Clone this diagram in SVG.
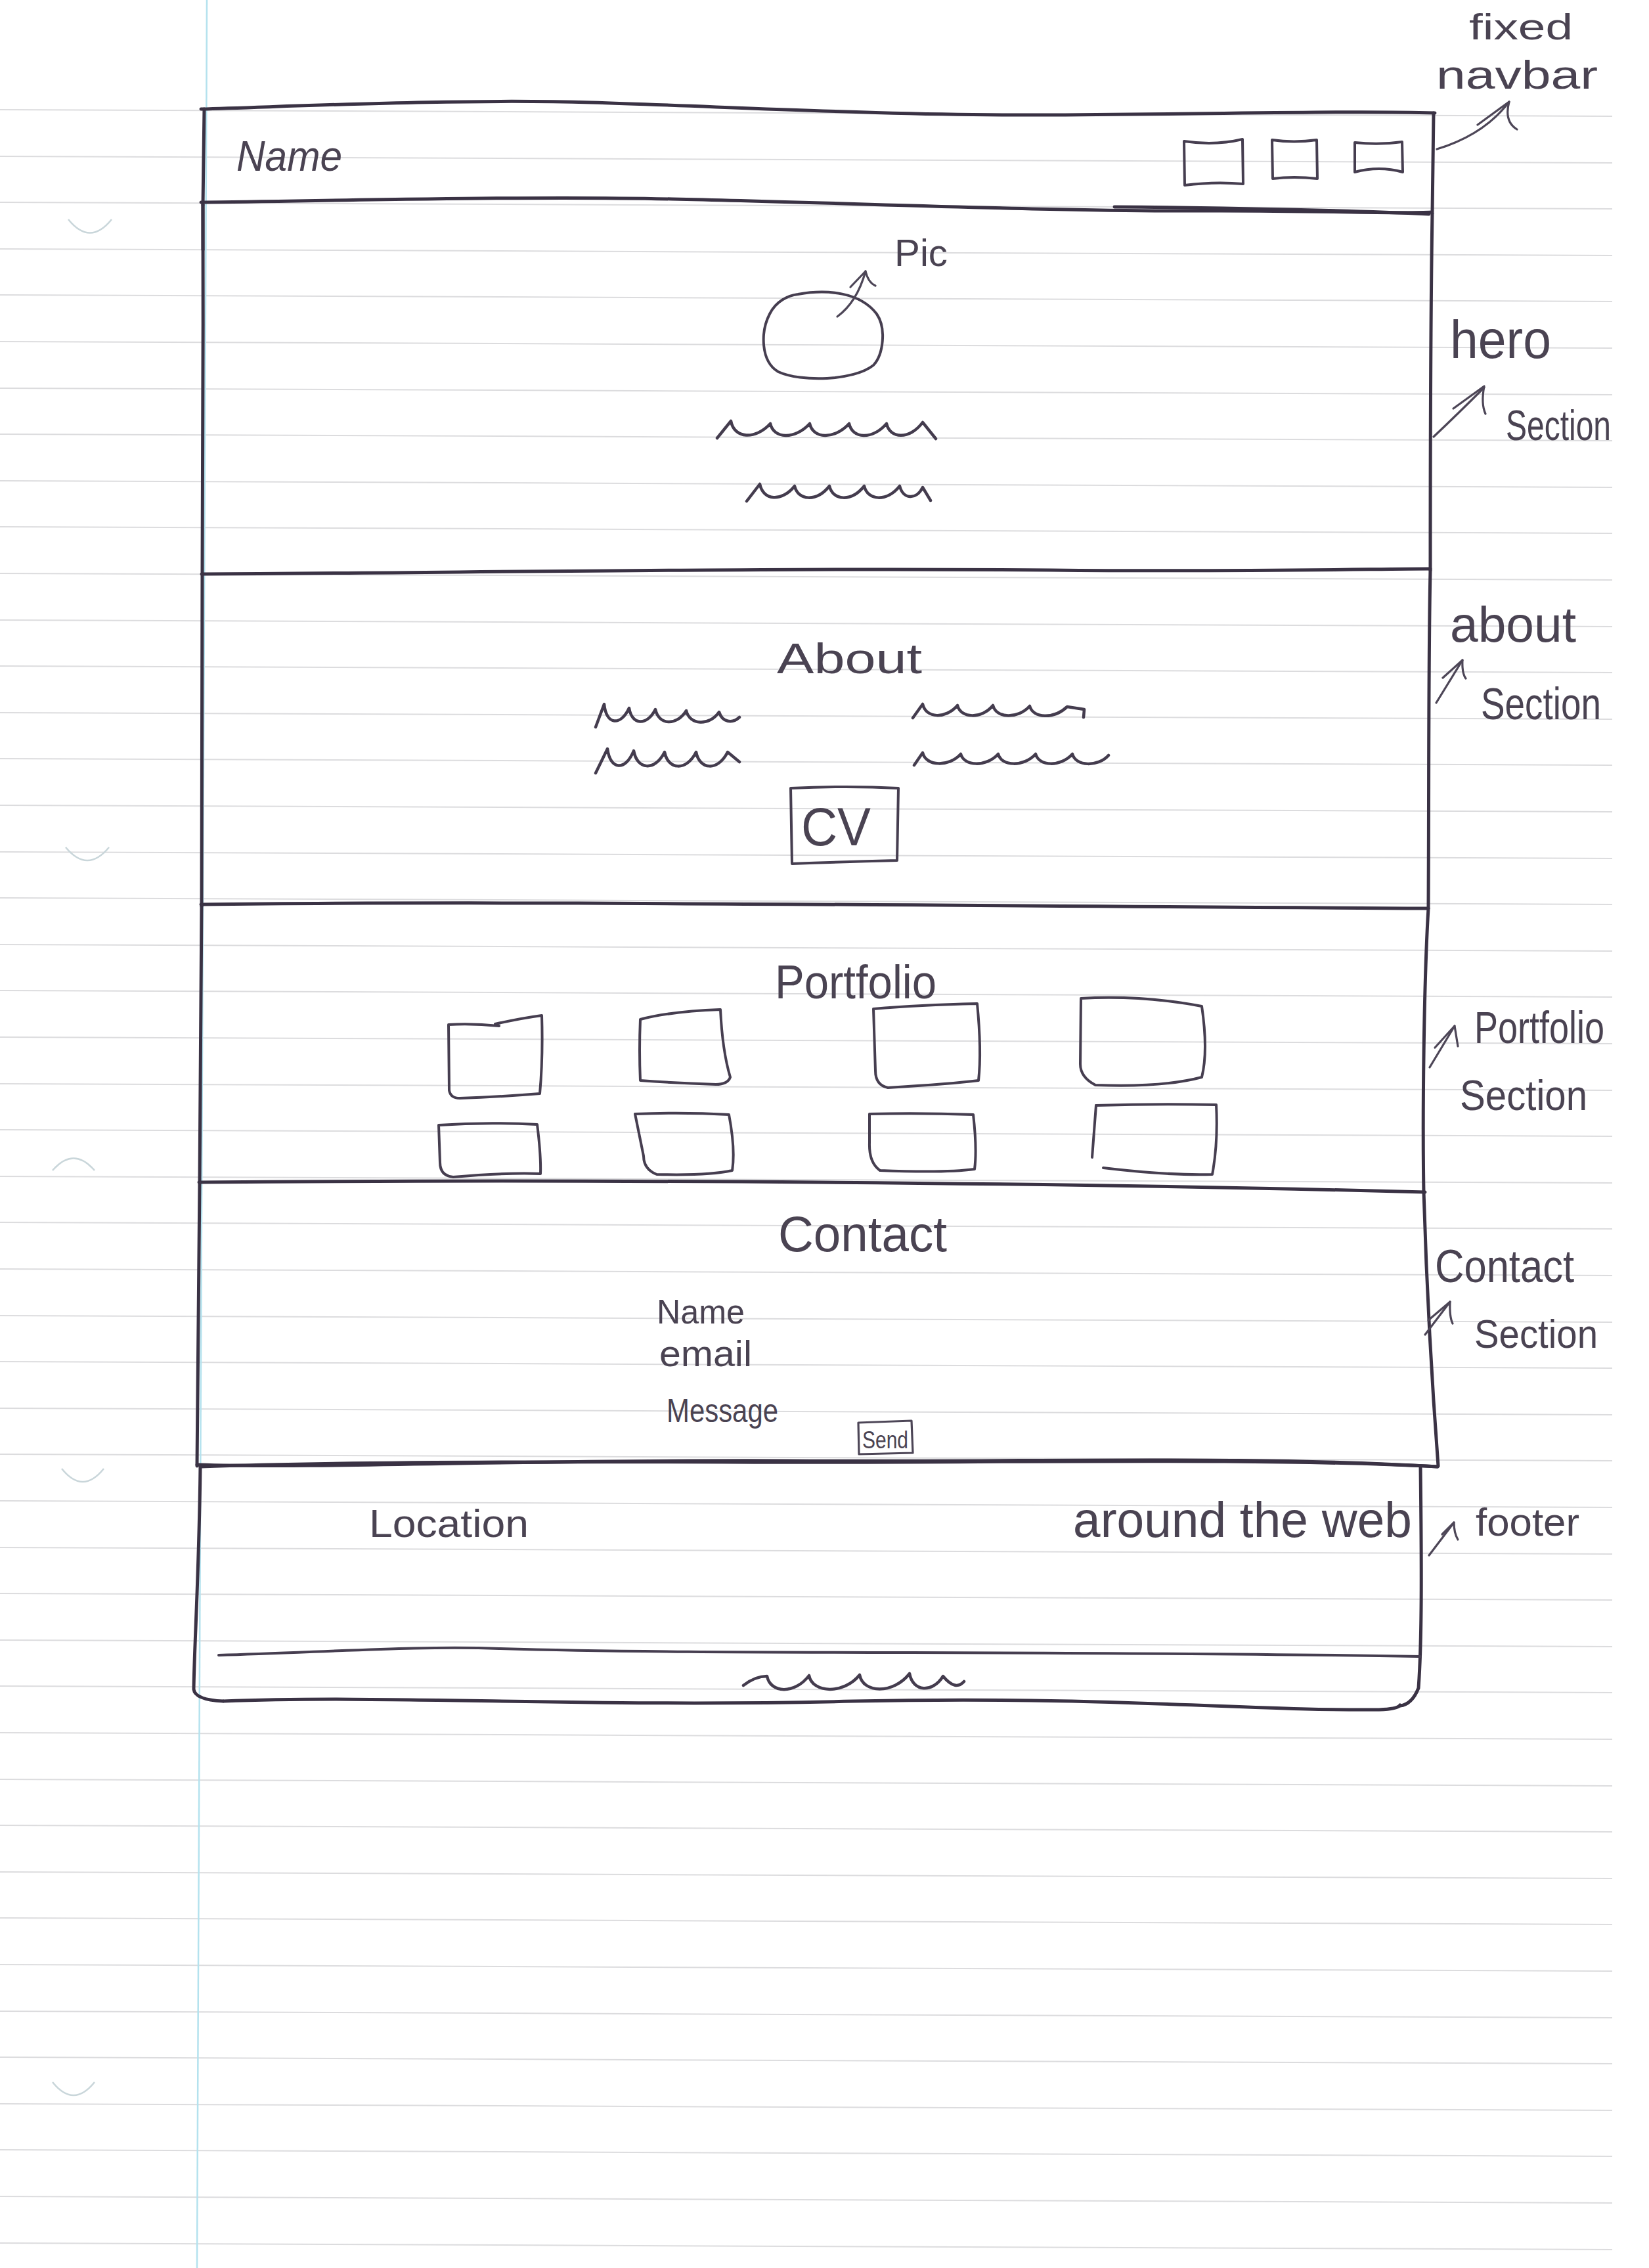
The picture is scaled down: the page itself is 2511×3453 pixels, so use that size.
<svg xmlns="http://www.w3.org/2000/svg" width="2511" height="3453" viewBox="0 0 2511 3453">
  <defs>
    <style>
      .rule { stroke:#dcdcde; stroke-width:2; fill:none; }
      .margin { stroke:#b4e2ee; stroke-width:2.5; fill:none; }
      .hole { stroke:#c9d6da; stroke-width:2.5; fill:none; }
      .ink { fill:none; stroke:#3a3244; stroke-width:5; stroke-linecap:round; stroke-linejoin:round; }
      .pen { fill:none; stroke:#463e50; stroke-width:4; stroke-linecap:round; stroke-linejoin:round; }
      .thin { fill:none; stroke:#4d4657; stroke-width:3.2; stroke-linecap:round; stroke-linejoin:round; }
      .wave { fill:none; stroke:#443c4e; stroke-width:4.5; stroke-linecap:round; stroke-linejoin:round; }
      .hand { font-family:"Liberation Sans", Arial, sans-serif; fill:#4a4352; }
    </style>
  </defs>

  <!-- paper -->
  <rect x="0" y="0" width="2511" height="3453" fill="#ffffff"/>
  <g id="paper-rules">
    <path class="rule" d="M0 167 L2455 177 M0 238 L2455 248 M0 308 L2455 318 M0 379 L2455 389 M0 449 L2455 459 M0 520 L2455 530 M0 591 L2455 601 M0 661 L2455 671 M0 732 L2455 742 M0 802 L2455 812 M0 873 L2455 883 M0 944 L2455 954 M0 1014 L2455 1024 M0 1085 L2455 1095 M0 1155 L2455 1165 M0 1226 L2455 1236 M0 1297 L2455 1307 M0 1367 L2455 1377 M0 1438 L2455 1448 M0 1508 L2455 1518 M0 1579 L2455 1589 M0 1650 L2455 1660 M0 1720 L2455 1730 M0 1791 L2455 1801 M0 1861 L2455 1871 M0 1932 L2455 1942 M0 2003 L2455 2013 M0 2073 L2455 2083 M0 2144 L2455 2154 M0 2214 L2455 2224 M0 2285 L2455 2295 M0 2356 L2455 2366 M0 2426 L2455 2436 M0 2497 L2455 2507 M0 2567 L2455 2577 M0 2638 L2455 2648 M0 2709 L2455 2719 M0 2779 L2455 2789 M0 2850 L2455 2860 M0 2920 L2455 2930 M0 2991 L2455 3001 M0 3062 L2455 3072 M0 3132 L2455 3142 M0 3203 L2455 3213 M0 3273 L2455 3283 M0 3344 L2455 3354 M0 3415 L2455 3425"/>
    <path class="margin" d="M315 0 L300 3453"/>
    <path class="hole" d="M104 334 Q137 375 170 334"/>
    <path class="hole" d="M100 1290 Q133 1330 166 1290"/>
    <path class="hole" d="M80 1782 Q112 1745 144 1782"/>
    <path class="hole" d="M94 2236 Q126 2276 158 2236"/>
    <path class="hole" d="M80 3170 Q112 3210 144 3170"/>
  </g>

  <!-- fixed navbar -->
  <g id="navbar">
    <path class="ink" d="M306 166 C450 162 700 150 900 156 C1100 162 1350 176 1580 175 C1850 174 2050 168 2185 172"/>
    <path class="ink" d="M311 166 L309 312"/>
    <path class="ink" d="M2183 172 L2181 325"/>
    <path class="ink" d="M306 308 C500 306 800 298 1023 303 C1300 309 1600 322 1827 321 C2000 320 2120 326 2180 323"/>
    <path class="ink" d="M1697 315 C1850 316 2050 320 2176 326"/>
    <text class="hand" x="360" y="260" font-size="64" font-style="italic" textLength="161" lengthAdjust="spacingAndGlyphs">Name</text>
    <path class="pen" d="M1803 215 Q1850 222 1892 212 L1893 280 Q1850 276 1804 282 Z"/>
    <path class="pen" d="M1937 213 Q1970 218 2005 213 L2006 272 Q1970 268 1938 272 Z"/>
    <path class="pen" d="M2063 217 Q2100 221 2135 216 L2136 262 Q2100 252 2063 262 Z"/>
  </g>

  <!-- hero section -->
  <g id="hero">
    <path class="ink" d="M309 312 C310 500 308 700 308 874"/>
    <path class="ink" stroke-width="8" d="M309 312 L309 380"/>
    <path class="ink" d="M2181 325 C2178 500 2178 700 2178 868"/>
    <path class="ink" d="M307 874 C700 872 1200 864 1600 868 C1900 871 2100 866 2178 866"/>
    <path class="pen" d="M1215 448 C1260 440 1310 445 1335 478 C1350 500 1345 540 1330 556 C1300 580 1220 582 1185 566 C1158 550 1158 505 1172 478 C1182 458 1200 450 1215 448 Z"/>
    <text class="hand" x="1362" y="405" font-size="58" textLength="81" lengthAdjust="spacingAndGlyphs">Pic</text>
    <path class="wave" d="M1092 667 L1113 641 C1118 668 1150 670 1173 645 C1178 668 1210 670 1233 645 C1238 668 1270 670 1293 645 C1298 668 1328 670 1350 645 C1355 668 1385 670 1405 643 L1425 668"/>
    <path class="wave" d="M1137 763 L1157 737 C1162 762 1190 765 1210 740 C1215 762 1243 765 1263 740 C1268 762 1296 765 1316 740 C1321 762 1350 765 1370 740 C1375 760 1395 762 1405 742 L1417 762"/>
  </g>

  <!-- about section -->
  <g id="about">
    <path class="ink" d="M308 874 L307 1380"/>
    <path class="ink" d="M2178 868 C2175 1000 2176 1200 2175 1383"/>
    <path class="ink" d="M306 1377 C800 1371 1400 1379 2175 1383"/>
    <text class="hand" x="1183" y="1025" font-size="64" textLength="221" lengthAdjust="spacingAndGlyphs">About</text>
    <path class="wave" d="M907 1107 L920 1072 C923 1104 945 1106 958 1078 C962 1104 985 1106 998 1080 C1003 1104 1030 1106 1045 1082 C1050 1104 1080 1106 1095 1084 C1100 1100 1115 1102 1126 1092"/>
    <path class="wave" d="M907 1177 L925 1140 C929 1172 952 1175 965 1143 C970 1172 997 1175 1012 1145 C1017 1172 1045 1175 1060 1145 C1065 1172 1093 1175 1108 1145 L1126 1160"/>
    <path class="wave" d="M1390 1093 L1405 1072 C1410 1094 1440 1095 1458 1074 C1463 1094 1495 1095 1512 1074 C1517 1094 1550 1095 1568 1075 C1573 1094 1605 1095 1625 1076 L1651 1080 L1650 1092"/>
    <path class="wave" d="M1392 1165 L1405 1146 C1410 1167 1445 1168 1463 1148 C1468 1167 1502 1168 1520 1148 C1525 1167 1559 1168 1577 1148 C1582 1167 1615 1168 1633 1148 C1638 1167 1672 1168 1688 1150"/>
    <path class="pen" d="M1204 1200 Q1290 1196 1368 1200 L1366 1310 Q1290 1312 1206 1315 Z"/>
    <text class="hand" x="1220" y="1287" font-size="82" textLength="106" lengthAdjust="spacingAndGlyphs">CV</text>
  </g>

  <!-- portfolio section -->
  <g id="portfolio">
    <path class="ink" d="M307 1377 L304 1800"/>
    <path class="ink" d="M2175 1383 C2168 1500 2166 1700 2168 1816"/>
    <path class="ink" d="M303 1800 C900 1795 1600 1800 2170 1815"/>
    <text class="hand" x="1180" y="1520" font-size="72" textLength="246" lengthAdjust="spacingAndGlyphs">Portfolio</text>
    <path class="pen" d="M760 1562 Q720 1558 683 1560 L684 1660 Q686 1672 700 1672 Q760 1670 822 1665 Q827 1610 825 1546 Q795 1550 754 1559"/>
    <path class="pen" d="M975 1552 Q1020 1540 1097 1537 Q1100 1600 1112 1640 Q1108 1651 1090 1651 Q1030 1649 975 1645 Q973 1600 975 1552 Z"/>
    <path class="pen" d="M1330 1536 Q1400 1530 1488 1528 Q1495 1600 1490 1645 Q1450 1650 1352 1656 Q1333 1652 1333 1630 Z"/>
    <path class="pen" d="M1646 1520 Q1740 1515 1830 1532 Q1840 1600 1830 1640 Q1770 1656 1668 1652 Q1645 1640 1645 1620 Z"/>
    <path class="pen" d="M668 1713 Q740 1708 818 1712 Q824 1760 823 1787 Q770 1785 690 1792 Q670 1790 670 1770 Z"/>
    <path class="pen" d="M967 1696 Q1040 1693 1110 1697 Q1120 1750 1115 1782 Q1080 1790 1000 1788 Q980 1780 980 1760 Z"/>
    <path class="pen" d="M1324 1696 Q1400 1694 1482 1697 Q1488 1750 1484 1780 Q1440 1786 1340 1782 Q1323 1770 1324 1740 Z"/>
    <path class="pen" d="M1669 1683 Q1760 1680 1852 1682 Q1855 1740 1846 1788 Q1780 1790 1680 1778"/>
    <path class="pen" d="M1669 1683 L1663 1762"/>
  </g>

  <!-- contact section -->
  <g id="contact">
    <path class="ink" d="M304 1800 L300 2232"/>
    <path class="ink" d="M2168 1815 C2172 1950 2180 2100 2190 2232"/>
    <path class="ink" d="M300 2230 C500 2236 800 2222 1200 2224 C1600 2226 1900 2216 2189 2233"/>
    <text class="hand" x="1185" y="1905" font-size="76" textLength="257" lengthAdjust="spacingAndGlyphs">Contact</text>
    <text class="hand" x="1000" y="2015" font-size="52" textLength="134" lengthAdjust="spacingAndGlyphs">Name</text>
    <text class="hand" x="1004" y="2080" font-size="56" textLength="141" lengthAdjust="spacingAndGlyphs">email</text>
    <text class="hand" x="1015" y="2165" font-size="50" textLength="170" lengthAdjust="spacingAndGlyphs">Message</text>
    <path class="thin" d="M1307 2166 L1388 2163 L1390 2212 L1308 2214 Z"/>
    <text class="hand" x="1313" y="2205" font-size="36" textLength="70" lengthAdjust="spacingAndGlyphs">Send</text>
  </g>

  <!-- footer -->
  <g id="footer">
    <path class="ink" d="M305 2233 C500 2226 800 2225 1100 2226 C1500 2228 1900 2218 2189 2233"/>
    <path class="ink" d="M305 2233 C303 2400 296 2500 295 2572 Q297 2588 340 2590"/>
    <path class="ink" d="M340 2590 C600 2580 900 2600 1300 2590 C1700 2582 1900 2605 2100 2603 Q2128 2602 2132 2596"/>
    <path class="ink" d="M2163 2233 C2165 2400 2165 2500 2160 2570 Q2150 2595 2132 2597"/>
    <path class="pen" d="M333 2520 C500 2515 650 2505 760 2510 C1100 2520 1600 2512 2163 2522"/>
    <text class="hand" x="562" y="2340" font-size="60" textLength="243" lengthAdjust="spacingAndGlyphs">Location</text>
    <text class="hand" x="1634" y="2340" font-size="76" textLength="516" lengthAdjust="spacingAndGlyphs">around the web</text>
    <path class="wave" d="M1132 2566 Q1150 2552 1168 2552 C1173 2578 1210 2580 1232 2551 C1237 2578 1285 2580 1309 2550 C1314 2578 1360 2580 1385 2548 C1390 2576 1420 2578 1436 2552 Q1455 2575 1468 2560"/>
  </g>

  <!-- side notes -->
  <g id="notes">
    <text class="hand" x="2237" y="60" font-size="56" textLength="158" lengthAdjust="spacingAndGlyphs">fixed</text>
    <text class="hand" x="2187" y="135" font-size="62" textLength="246" lengthAdjust="spacingAndGlyphs">navbar</text>
    <text class="hand" x="2208" y="545" font-size="82" textLength="154" lengthAdjust="spacingAndGlyphs">hero</text>
    <text class="hand" x="2293" y="670" font-size="64" textLength="160" lengthAdjust="spacingAndGlyphs">Section</text>
    <text class="hand" x="2208" y="977" font-size="76" textLength="192" lengthAdjust="spacingAndGlyphs">about</text>
    <text class="hand" x="2255" y="1095" font-size="68" textLength="183" lengthAdjust="spacingAndGlyphs">Section</text>
    <text class="hand" x="2245" y="1588" font-size="68" textLength="198" lengthAdjust="spacingAndGlyphs">Portfolio</text>
    <text class="hand" x="2223" y="1690" font-size="64" textLength="194" lengthAdjust="spacingAndGlyphs">Section</text>
    <text class="hand" x="2185" y="1952" font-size="70" textLength="212" lengthAdjust="spacingAndGlyphs">Contact</text>
    <text class="hand" x="2245" y="2052" font-size="62" textLength="188" lengthAdjust="spacingAndGlyphs">Section</text>
    <text class="hand" x="2247" y="2338" font-size="60" textLength="158" lengthAdjust="spacingAndGlyphs">footer</text>
  </g>

  <!-- pointer arrows -->
  <g id="connectors">
    <path class="thin" d="M1275 482 Q1305 460 1318 413"/>
    <path class="thin" d="M1295 437 L1318 413 Q1322 430 1333 435"/>
    <path class="thin" d="M2188 227 Q2260 205 2298 155"/>
    <path class="thin" d="M2250 190 L2298 155 Q2290 185 2310 197"/>
    <path class="thin" d="M2183 665 Q2220 630 2260 590"/>
    <path class="thin" d="M2213 622 L2260 588 Q2255 615 2262 630"/>
    <path class="thin" d="M2187 1070 L2227 1005"/>
    <path class="thin" d="M2197 1032 L2227 1005 Q2226 1025 2232 1033"/>
    <path class="thin" d="M2177 1625 L2215 1562"/>
    <path class="thin" d="M2185 1595 L2215 1562 L2220 1593"/>
    <path class="thin" d="M2170 2032 L2208 1982"/>
    <path class="thin" d="M2175 2010 L2208 1982 Q2207 2005 2212 2015"/>
    <path class="thin" d="M2176 2368 L2214 2318"/>
    <path class="thin" d="M2196 2336 L2214 2318 Q2214 2334 2220 2344"/>
  </g>
</svg>
